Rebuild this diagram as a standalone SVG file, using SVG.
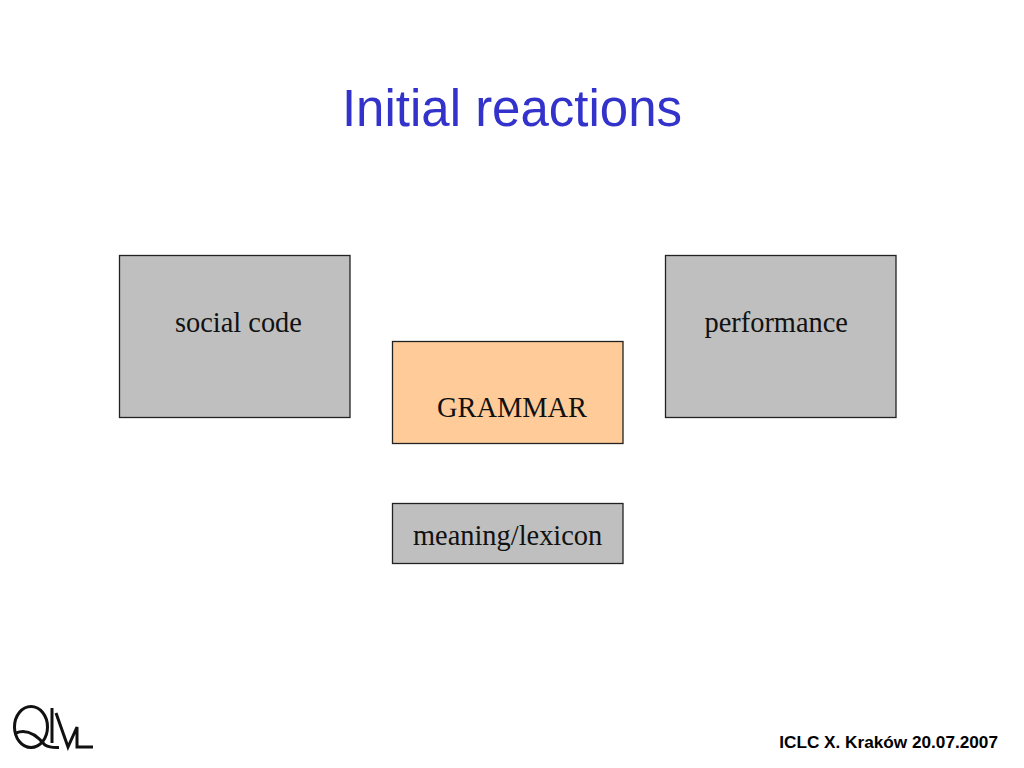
<svg xmlns="http://www.w3.org/2000/svg" width="1024" height="768" viewBox="0 0 1024 768">
<style>
.box{stroke:#222;stroke-width:1.3}
.grey{fill:#bfbfbf}
.orange{fill:#ffcc99}
.lbl{font-family:"Liberation Serif",serif;font-size:28.4px;fill:#111}
.logo{fill:none;stroke:#111;stroke-width:3}
</style>
<rect width="1024" height="768" fill="#fff"/>
<text id="title" x="512" y="126" text-anchor="middle" font-family="Liberation Sans,sans-serif" font-size="51" fill="#3333cc">Initial reactions</text>
<g id="connectors"/>
<g id="social-code"><rect class="box grey" x="119.500" y="255.500" width="230.500" height="162"/><text class="lbl" x="175" y="332">social code</text></g>
<g id="performance"><rect class="box grey" x="665.500" y="255.500" width="230.500" height="162"/><text class="lbl" x="704.500" y="332">performance</text></g>
<g id="grammar"><rect class="box orange" x="392.500" y="341.500" width="230.500" height="102"/><text class="lbl" x="437" y="417">GRAMMAR</text></g>
<g id="meaning-lexicon"><rect class="box grey" x="392.500" y="503.500" width="230.500" height="60"/><text class="lbl" x="413" y="545">meaning/lexicon</text></g>
<g id="logo">
<ellipse class="logo" cx="31" cy="727" rx="16.500" ry="20.500"/>
<path class="logo" d="M16 733Q30 727 45 745Q50 748 59 747.500M52 708V743M56 713L68 747L77 727V747H93"/>
</g>
<text id="footer" x="998" y="748" text-anchor="end" font-family="Liberation Sans,sans-serif" font-size="17.200" font-weight="bold" fill="#000">ICLC X. Kraków 20.07.2007</text>
</svg>
